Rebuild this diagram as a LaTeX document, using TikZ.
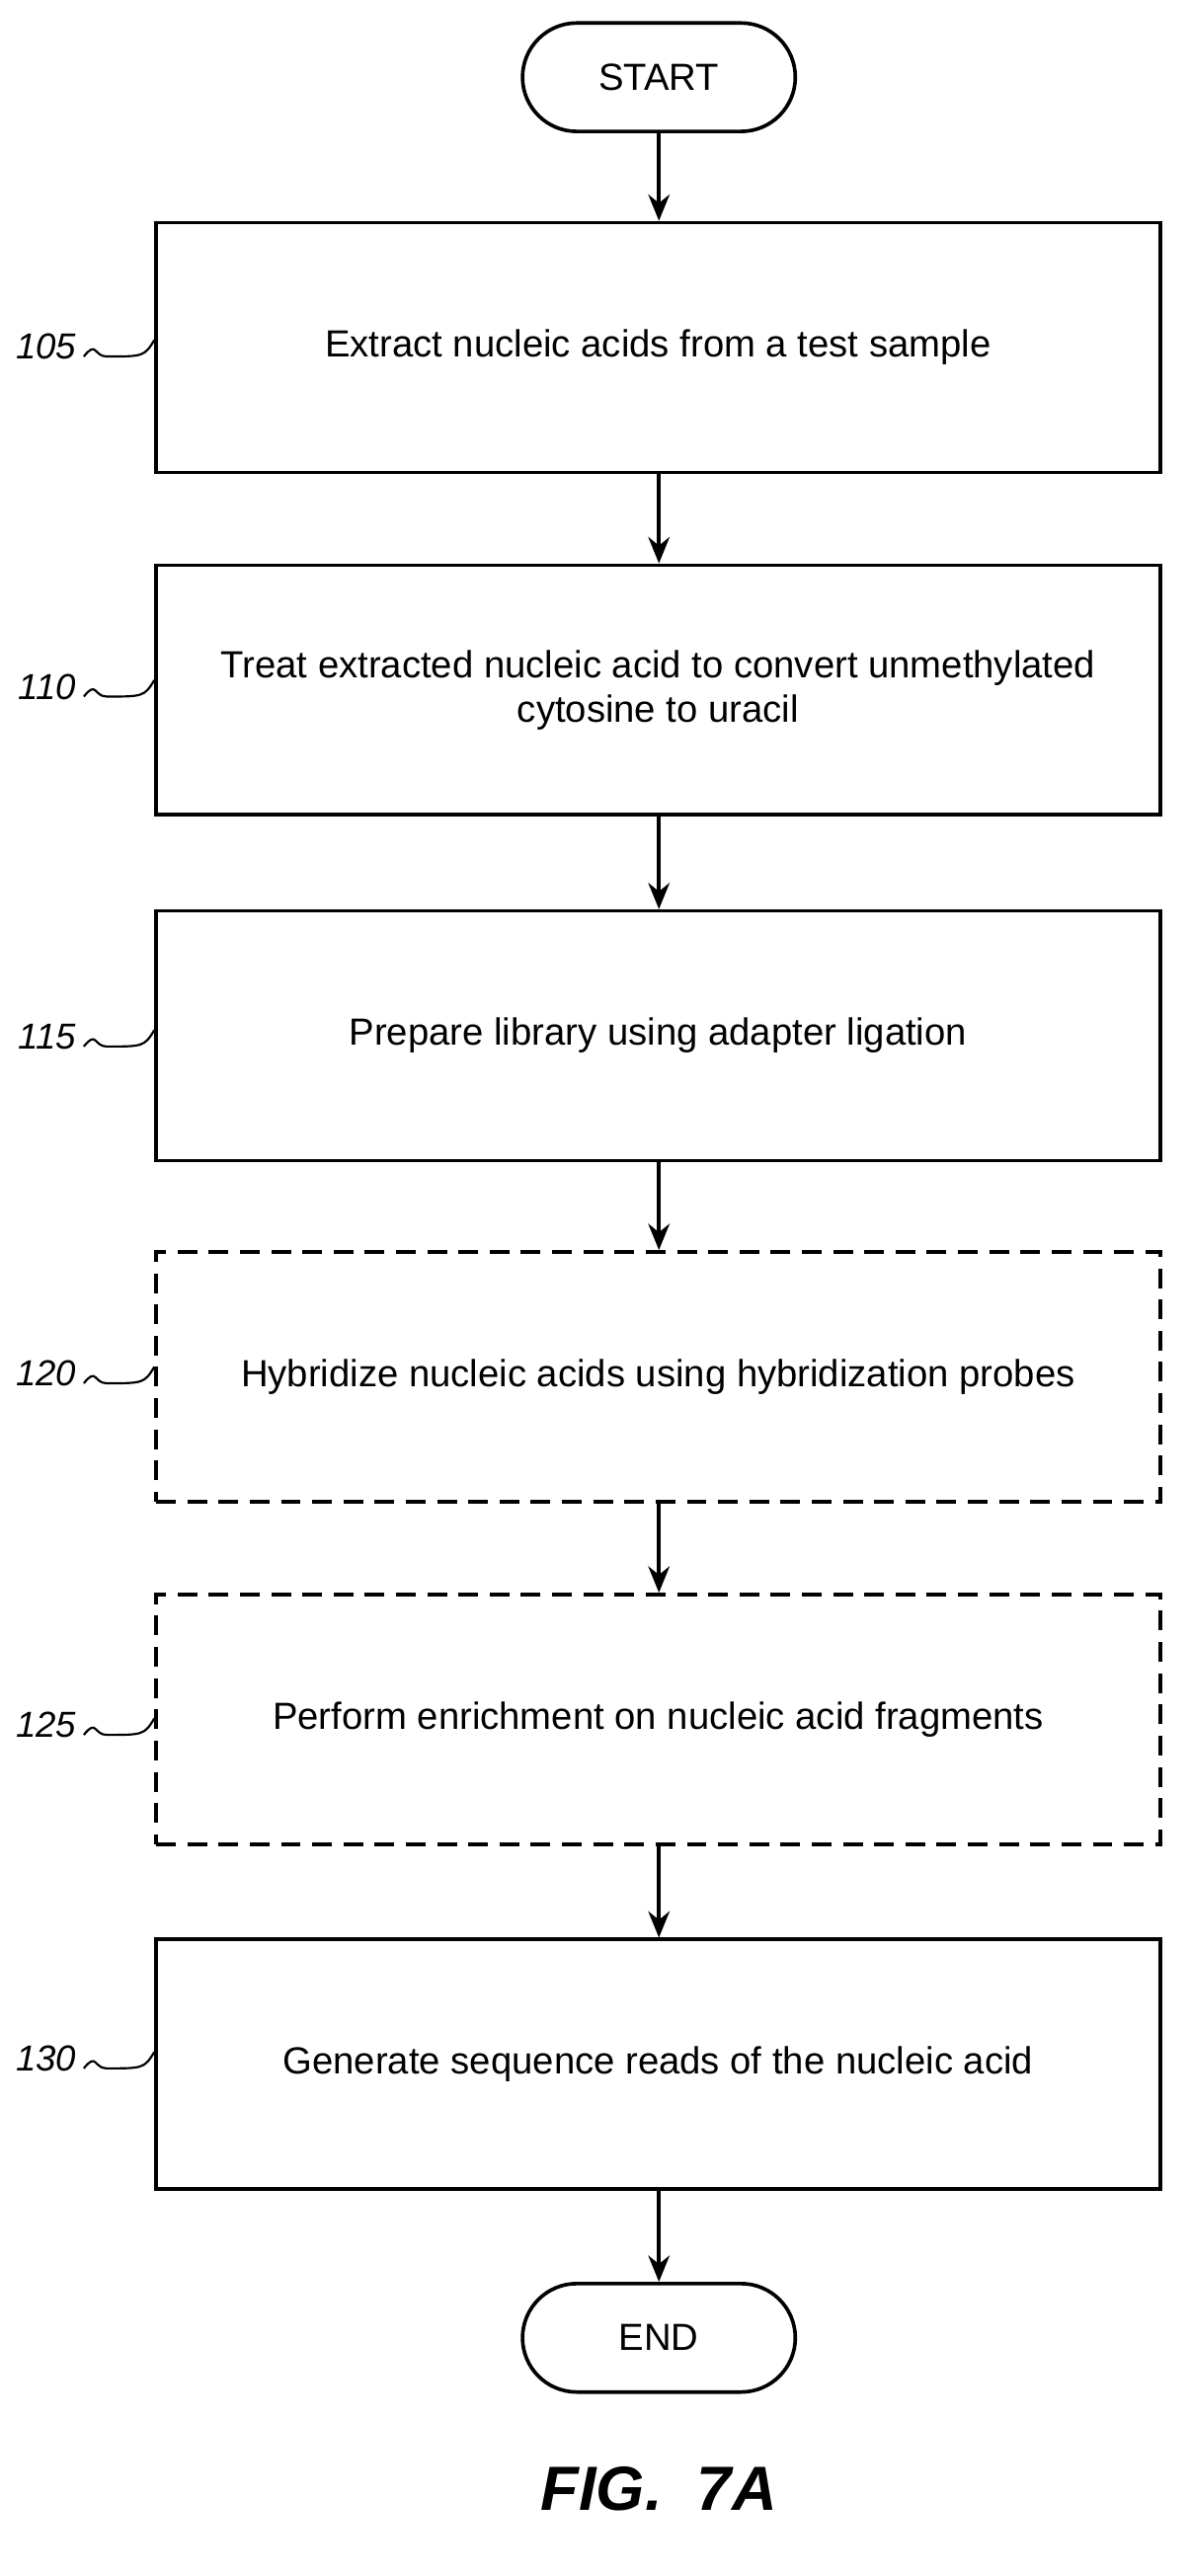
\documentclass[tikz,border=0pt]{standalone}
\usepackage{fontspec}
\setmainfont{Liberation Sans}
\usetikzlibrary{arrows.meta}
\begin{document}
\begin{tikzpicture}[x=1pt,y=-1pt,
  box/.style={draw,line width=2.2pt,minimum width=611pt,minimum height=152pt,align=center,font=\fontsize{23}{27}\selectfont},
  dbox/.style={box,dash pattern=on 12pt off 7pt},
  term/.style={draw,line width=2.2pt,rounded corners=33pt,minimum width=166pt,minimum height=66pt,font=\fontsize{23}{27}\selectfont},
  arr/.style={line width=2.2pt,-{Stealth[length=16pt,width=13pt]}},
  lab/.style={font=\itshape\fontsize{22}{26}\selectfont,anchor=east},
  sq/.style={line width=1.3pt}]
\useasboundingbox (0,0) rectangle (724,1568);
\node[term] (start) at (401,47) {START};
\node[box] (b105) at (400.5,211.5) {Extract nucleic acids from a test sample};
\node[box] (b110) at (400.5,420) {Treat extracted nucleic acid to convert unmethylated\\cytosine to uracil};
\node[box] (b115) at (400.5,630.5) {Prepare library using adapter ligation};
\node[dbox] (b120) at (400.5,838) {Hybridize nucleic acids using hybridization probes};
\node[dbox] (b125) at (400.5,1046.5) {Perform enrichment on nucleic acid fragments};
\node[box] (b130) at (400.5,1256.5) {Generate sequence reads of the nucleic acid};
\node[term] (end) at (401,1423) {END};
\node[font=\bfseries\itshape\fontsize{38}{42}\selectfont] (fig) at (401,1515) {FIG.~~7A};
\foreach \a/\b in {start/b105,b105/b110,b110/b115,b115/b120,b120/b125,b125/b130,b130/end}
  \draw[arr] (\a.south -| start) -- (\b.north -| start);
\foreach \n/\y in {105/211,110/418,115/631,120/836,125/1050,130/1253}{
  \node[lab] (l\n) at (50,\y) {\n};
  \coordinate (c\n) at (b\n.west |- 0,\y-4);
  \draw[sq] (l\n.east) ++(1,6) .. controls +(8,-10) and +(-8,0) .. +(14,0) .. controls +(22,0) and +(-6,10) .. (c\n);
}
\end{tikzpicture}
\end{document}
